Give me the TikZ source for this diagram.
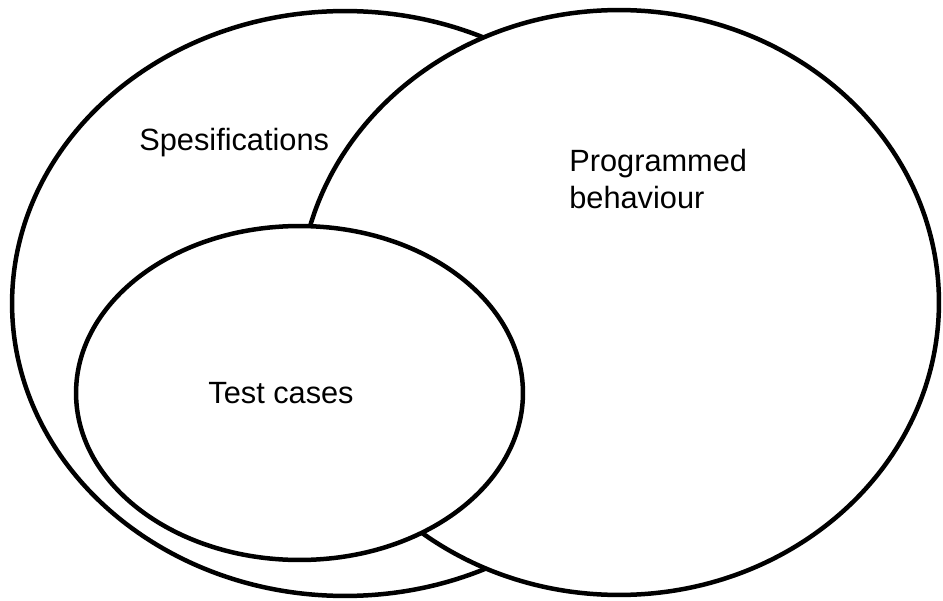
\documentclass[tikz,border=0pt]{standalone}
\usepackage{fontspec}
\setmainfont{Liberation Sans}
\usetikzlibrary{shapes.geometric}

\begin{document}
\begin{tikzpicture}[x=0.02cm, y=-0.02cm,
  set/.style={draw, ellipse, line width=0.09cm, fill=white, inner sep=0pt},
  lbl/.style={font=\fontsize{17.5}{21}\selectfont, inner sep=0pt, align=left}]
  \useasboundingbox (0,0) rectangle (943,601);
  % sets, back to front
  \node[set, minimum width=13.32cm, minimum height=11.7cm] (spec) at (345,303.5) {};
  \node[set, minimum width=12.8cm, minimum height=11.7cm] (prog) at (619,302.5) {};
  \node[set, minimum width=8.94cm, minimum height=6.68cm] (test) at (299.5,393) {};
  % labels
  \node[lbl, anchor=west] (speclbl) at (139,143) {Spesifications};
  \node[lbl, anchor=west] (proglbl) at (569,179) {Programmed\\behaviour};
  \node[lbl] (testlbl) at (281,393) {Test cases};
\end{tikzpicture}
\end{document}
